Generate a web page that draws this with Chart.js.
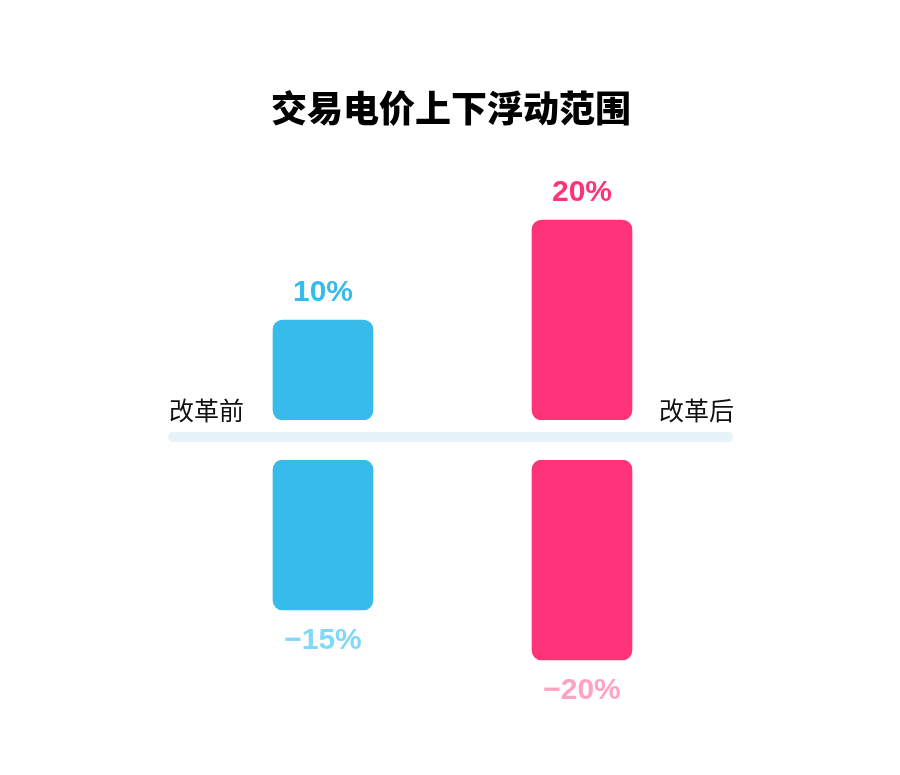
<!DOCTYPE html>
<html>
<head>
<meta charset="utf-8">
<script src="https://cdn.jsdelivr.net/npm/chart.js@4.4.1/dist/chart.umd.min.js"></script>
<style>
  html, body { margin: 0; padding: 0; background: #ffffff; }
  #wrap { position: relative; width: 900px; height: 775px; overflow: hidden; }
  canvas { position: absolute; left: 0; }
  #top { top: 0; }
  #bottom { top: 450px; }
</style>
</head>
<body>
<div id="wrap">
  <canvas id="top" width="900" height="450"></canvas>
  <canvas id="bottom" width="900" height="325"></canvas>
</div>
<script>
// ---- data ----
const titleText = '交易电价上下浮动范围';
const categories = ['改革前', '改革后'];
const upperValues = [10, 20];     // upward float (%)
const lowerValues = [-15, -20];   // downward float (%)
const barColors = ['#37BBEA', '#FF337A'];
const lowerLabelColors = ['#82D8FA', '#FFA3C4'];
const axisMax = 25;

const FONT_LATIN = '"Liberation Sans", Arial, "Noto Sans CJK SC", sans-serif';
const FONT_CJK = '"Noto Sans CJK SC", "Noto Sans", sans-serif';

function fmt(v) {
  return (v < 0 ? '\u2212' + Math.abs(v) : String(v)) + '%';
}

const upperPlugin = {
  id: 'upperDeco',
  afterDatasetsDraw(chart) {
    const ctx = chart.ctx;
    const meta = chart.getDatasetMeta(0);
    ctx.save();
    // value labels
    ctx.font = 'bold 30px ' + FONT_LATIN;
    ctx.textAlign = 'center';
    ctx.textBaseline = 'middle';
    meta.data.forEach((bar, i) => {
      ctx.fillStyle = barColors[i];
      ctx.fillText(fmt(upperValues[i]), bar.x, bar.y - 27);
    });
    // title
    ctx.fillStyle = '#000000';
    ctx.font = '900 36px ' + FONT_CJK;
    ctx.fillText(titleText, 451, 108);
    // zero axis band
    ctx.fillStyle = '#E6F3F8';
    const x0 = 168, x1 = 733, y0 = 432, h = 10, r = 5;
    ctx.beginPath();
    ctx.moveTo(x0 + r, y0);
    ctx.lineTo(x1 - r, y0);
    ctx.arc(x1 - r, y0 + r, r, -Math.PI / 2, Math.PI / 2);
    ctx.lineTo(x0 + r, y0 + h);
    ctx.arc(x0 + r, y0 + r, r, Math.PI / 2, Math.PI * 1.5);
    ctx.closePath();
    ctx.fill();
    // category labels
    ctx.fillStyle = '#111111';
    ctx.font = '25px ' + FONT_CJK;
    ctx.textAlign = 'left';
    ctx.fillText(categories[0], 169, 410);
    ctx.textAlign = 'right';
    ctx.fillText(categories[1], 734, 410);
    ctx.restore();
  }
};

const lowerPlugin = {
  id: 'lowerDeco',
  afterDatasetsDraw(chart) {
    const ctx = chart.ctx;
    const meta = chart.getDatasetMeta(0);
    ctx.save();
    ctx.font = 'bold 30px ' + FONT_LATIN;
    ctx.textAlign = 'center';
    ctx.textBaseline = 'middle';
    meta.data.forEach((bar, i) => {
      ctx.fillStyle = lowerLabelColors[i];
      ctx.fillText(fmt(lowerValues[i]), bar.x, bar.y + 31);
    });
    ctx.restore();
  }
};

function baseOptions(pad, yMin, yMax) {
  return {
    responsive: false,
    animation: false,
    devicePixelRatio: 1,
    layout: { padding: pad },
    plugins: { legend: { display: false }, tooltip: { enabled: false }, title: { display: false } },
    scales: {
      x: { display: false, grid: { display: false } },
      y: { display: false, min: yMin, max: yMax, grid: { display: false } }
    }
  };
}

new Chart(document.getElementById('top'), {
  type: 'bar',
  data: {
    labels: categories,
    datasets: [{
      data: upperValues,
      backgroundColor: barColors,
      borderRadius: 10,
      borderSkipped: false,
      barThickness: 100
    }]
  },
  options: baseOptions({ top: 170, bottom: 30, left: 193.5, right: 188.5 }, 0, axisMax),
  plugins: [upperPlugin]
});

new Chart(document.getElementById('bottom'), {
  type: 'bar',
  data: {
    labels: categories,
    datasets: [{
      data: lowerValues,
      backgroundColor: barColors,
      borderRadius: 10,
      borderSkipped: false,
      barThickness: 100
    }]
  },
  options: baseOptions({ top: 10, bottom: 65, left: 193.5, right: 188.5 }, -axisMax, 0),
  plugins: [lowerPlugin]
});
</script>
</body>
</html>
